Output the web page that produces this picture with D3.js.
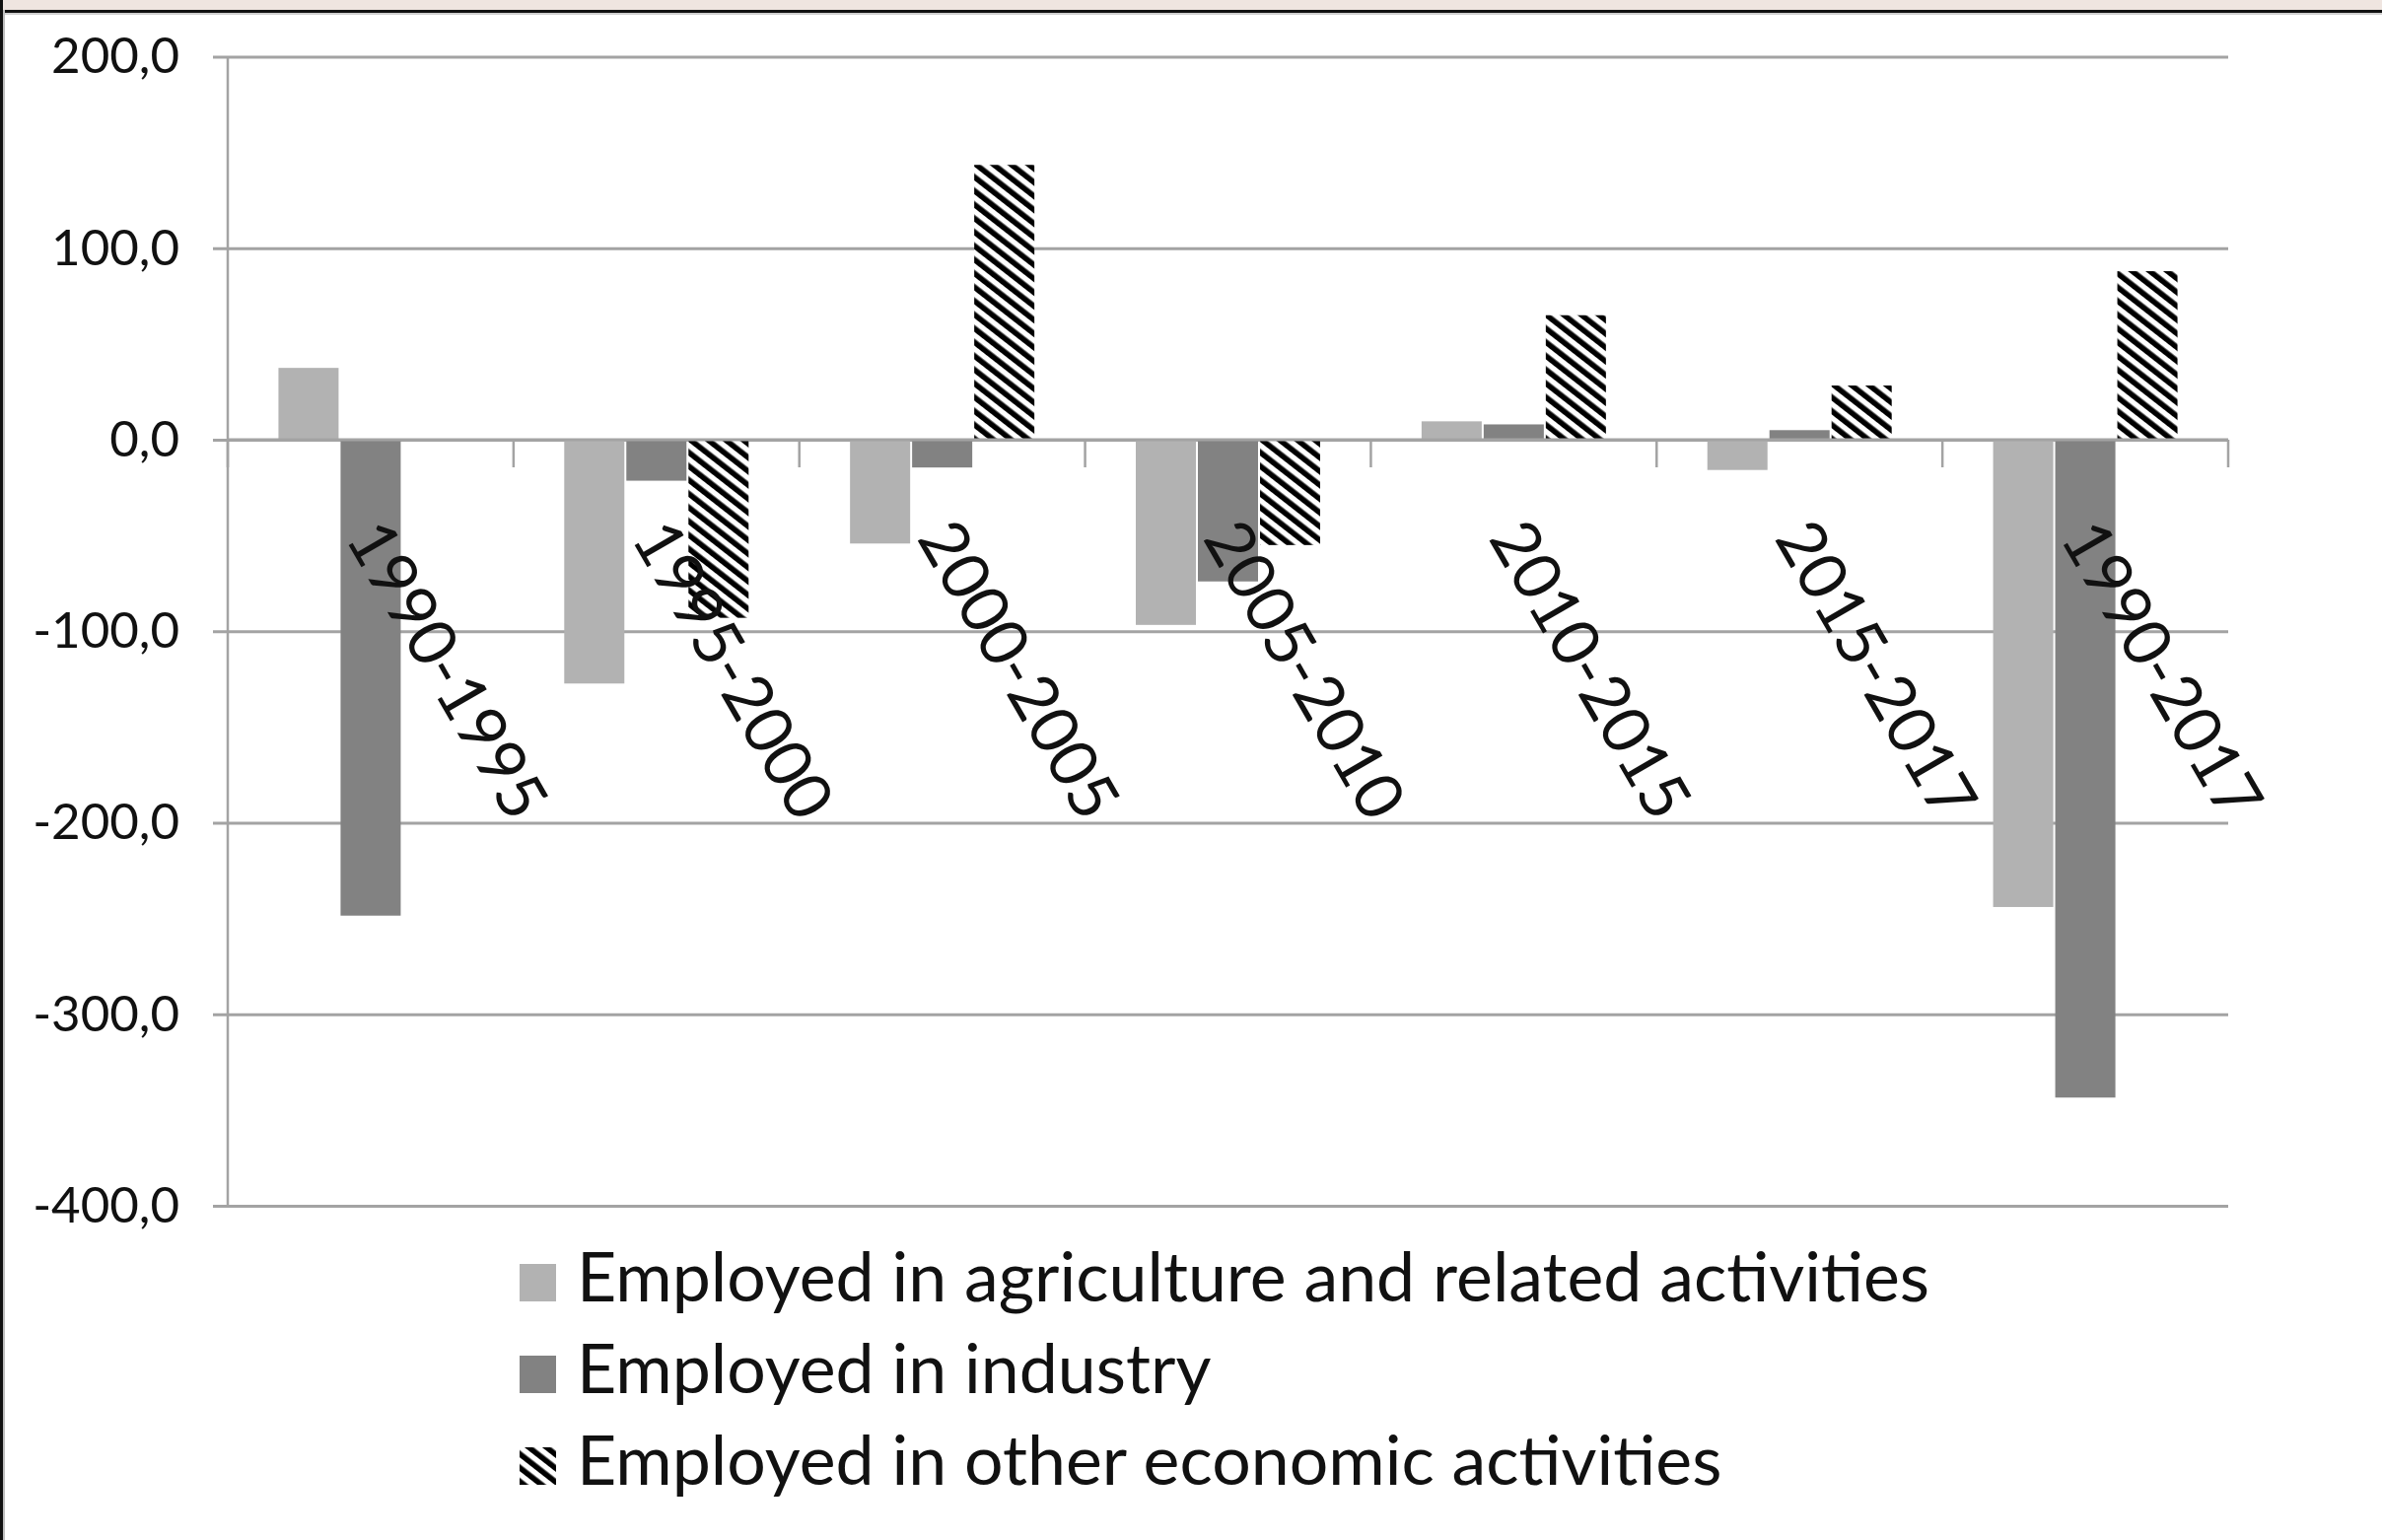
<!DOCTYPE html>
<html>
<head>
<meta charset="utf-8">
<script src="https://cdn.jsdelivr.net/npm/d3@7"></script>
<style>
  html, body { margin: 0; padding: 0; background: #ffffff; }
  svg { display: block; }
  text { font-family: "Lato", "Open Sans", "Noto Sans", sans-serif; fill: #111; }
</style>
</head>
<body>
<svg id="chart" width="2416" height="1562"></svg>
<script>
// Change in employment by period (thousands), three sectors
const categories = ["1990-1995", "1995-2000", "2000-2005", "2005-2010", "2010-2015", "2015-2017", "1990-2017"];
const agriculture = [37.5, -127.3, -54.2, -96.7, 9.6, -15.8, -244.0];
const industry = [-248.5, -21.4, -14.5, -74.0, 8.0, 5.0, -343.5];
const otherActivities = [0, -93.0, 143.5, -55.0, 65.0, 28.3, 88.0];
const seriesNames = [
  "Employed in agriculture and related activities",
  "Employed in industry",
  "Employed in other economic activities"
];
const yTicks = [200, 100, 0, -100, -200, -300, -400];

const W = 2416, H = 1562;
const plot = { left: 231, right: 2260, top: 57.5, bottom: 1223 };

const svg = d3.select("#chart");

// page frame: tinted strip and dark rules along the top and left edges
svg.append("rect").attr("x", 0).attr("y", 0).attr("width", W).attr("height", H).attr("fill", "#ffffff");
svg.append("rect").attr("x", 0).attr("y", 0).attr("width", W).attr("height", 10).attr("fill", "#efe5e0");
svg.append("rect").attr("x", 0).attr("y", 10).attr("width", W).attr("height", 3).attr("fill", "#111");
svg.append("rect").attr("x", 0).attr("y", 13).attr("width", W).attr("height", 2).attr("fill", "#cfcfcf");
svg.append("rect").attr("x", 0).attr("y", 0).attr("width", 3).attr("height", H).attr("fill", "#111");
svg.append("rect").attr("x", 3).attr("y", 10).attr("width", 2).attr("height", H).attr("fill", "#bdbdbd");

// diagonal hatch used for the third series
const defs = svg.append("defs");
const pat = defs.append("pattern")
  .attr("id", "hatch")
  .attr("patternUnits", "userSpaceOnUse")
  .attr("width", 11).attr("height", 11)
  .attr("patternTransform", "rotate(-52)");
pat.append("rect").attr("width", 11).attr("height", 11).attr("fill", "#ffffff");
pat.append("rect").attr("x", 0).attr("width", 5.6).attr("height", 11).attr("fill", "#000000");

const fills = ["#b2b2b2", "#828282", "url(#hatch)"];
const seriesValues = [agriculture, industry, otherActivities];

const rows = categories.map((c, i) => ({
  category: c,
  values: seriesValues.map((arr, s) => ({ series: s, value: arr[i] }))
}));

// scales
const y = d3.scaleLinear().domain([-400, 200]).range([plot.bottom, plot.top]);
const x0 = d3.scaleBand().domain(categories)
  .range([plot.left, plot.right])
  .paddingInner(0.348).paddingOuter(0.174);
const x1 = d3.scaleBand().domain(d3.range(seriesValues.length)).range([0, x0.bandwidth()]);

const gridColor = "#a3a3a3";
const fmt = v => d3.format(".1f")(v).replace(".", ",").replace("−", "-");

// y axis with gridlines
const yAxisG = svg.append("g")
  .attr("transform", `translate(${plot.left - 15},0)`)
  .call(d3.axisLeft(y).tickValues(yTicks).tickFormat(fmt)
    .tickSize(-(plot.right - plot.left + 15)).tickPadding(34));
yAxisG.select(".domain").remove();
yAxisG.selectAll(".tick line").attr("stroke", gridColor).attr("stroke-width", 3);
yAxisG.selectAll(".tick text")
  .attr("font-size", 51)
  .attr("font-family", "Lato, 'Open Sans', sans-serif")
  .attr("fill", "#111");

// vertical axis line
svg.append("line")
  .attr("x1", plot.left).attr("x2", plot.left)
  .attr("y1", y(200)).attr("y2", y(-400))
  .attr("stroke", gridColor).attr("stroke-width", 2.5);

// bars
const groups = svg.append("g").selectAll("g")
  .data(rows).join("g")
  .attr("transform", d => `translate(${x0(d.category)},0)`);

groups.selectAll("rect")
  .data(d => d.values.filter(v => v.value !== 0))
  .join("rect")
  .attr("x", d => x1(d.series) + 1)
  .attr("width", x1.bandwidth() - 2)
  .attr("y", d => y(Math.max(0, d.value)))
  .attr("height", d => Math.abs(y(d.value) - y(0)))
  .attr("fill", d => fills[d.series]);

// horizontal axis at zero with boundary ticks between categories
const yZero = y(0);
svg.append("line")
  .attr("x1", plot.left).attr("x2", plot.right)
  .attr("y1", yZero).attr("y2", yZero)
  .attr("stroke", gridColor).attr("stroke-width", 3);

const boundaries = d3.range(categories.length + 1).map(i => plot.left + i * x0.step());
svg.append("g").selectAll("line")
  .data(boundaries).join("line")
  .attr("x1", d => d).attr("x2", d => d)
  .attr("y1", yZero).attr("y2", yZero + 28)
  .attr("stroke", gridColor).attr("stroke-width", 2.5);

// rotated category labels
const xAxisG = svg.append("g")
  .attr("transform", `translate(0,${yZero})`)
  .call(d3.axisBottom(x0).tickSize(0));
xAxisG.select(".domain").remove();
xAxisG.selectAll(".tick text")
  .attr("font-size", 67)
  .attr("font-family", "Lato, 'Open Sans', sans-serif")
  .attr("fill", "#111")
  .attr("text-anchor", "start")
  .attr("x", 0).attr("y", 0)
  .attr("dy", "0.35em")
  .attr("transform", "translate(-6,88) rotate(60)");

// legend
const legend = svg.append("g").attr("transform", "translate(527,0)");
const legendBaselines = [1320, 1413, 1506];
const legendRows = legend.selectAll("g")
  .data(seriesNames).join("g")
  .attr("transform", (d, i) => `translate(0,${legendBaselines[i]})`);
legendRows.append("rect")
  .attr("x", 0).attr("y", -38)
  .attr("width", 37).attr("height", 38)
  .attr("fill", (d, i) => fills[i]);
const legendText = legendRows.append("text")
  .attr("x", 58).attr("y", 0)
  .attr("font-size", 69)
  .attr("fill", "#111")
  .text(d => d);

// scale legend lines uniformly so the longest entry spans its column
const firstLen = legendText.node().getComputedTextLength();
const squeeze = 1372 / firstLen;
legendText.each(function () {
  const len = this.getComputedTextLength();
  d3.select(this).attr("textLength", len * squeeze).attr("lengthAdjust", "spacingAndGlyphs");
});
</script>
</body>
</html>
